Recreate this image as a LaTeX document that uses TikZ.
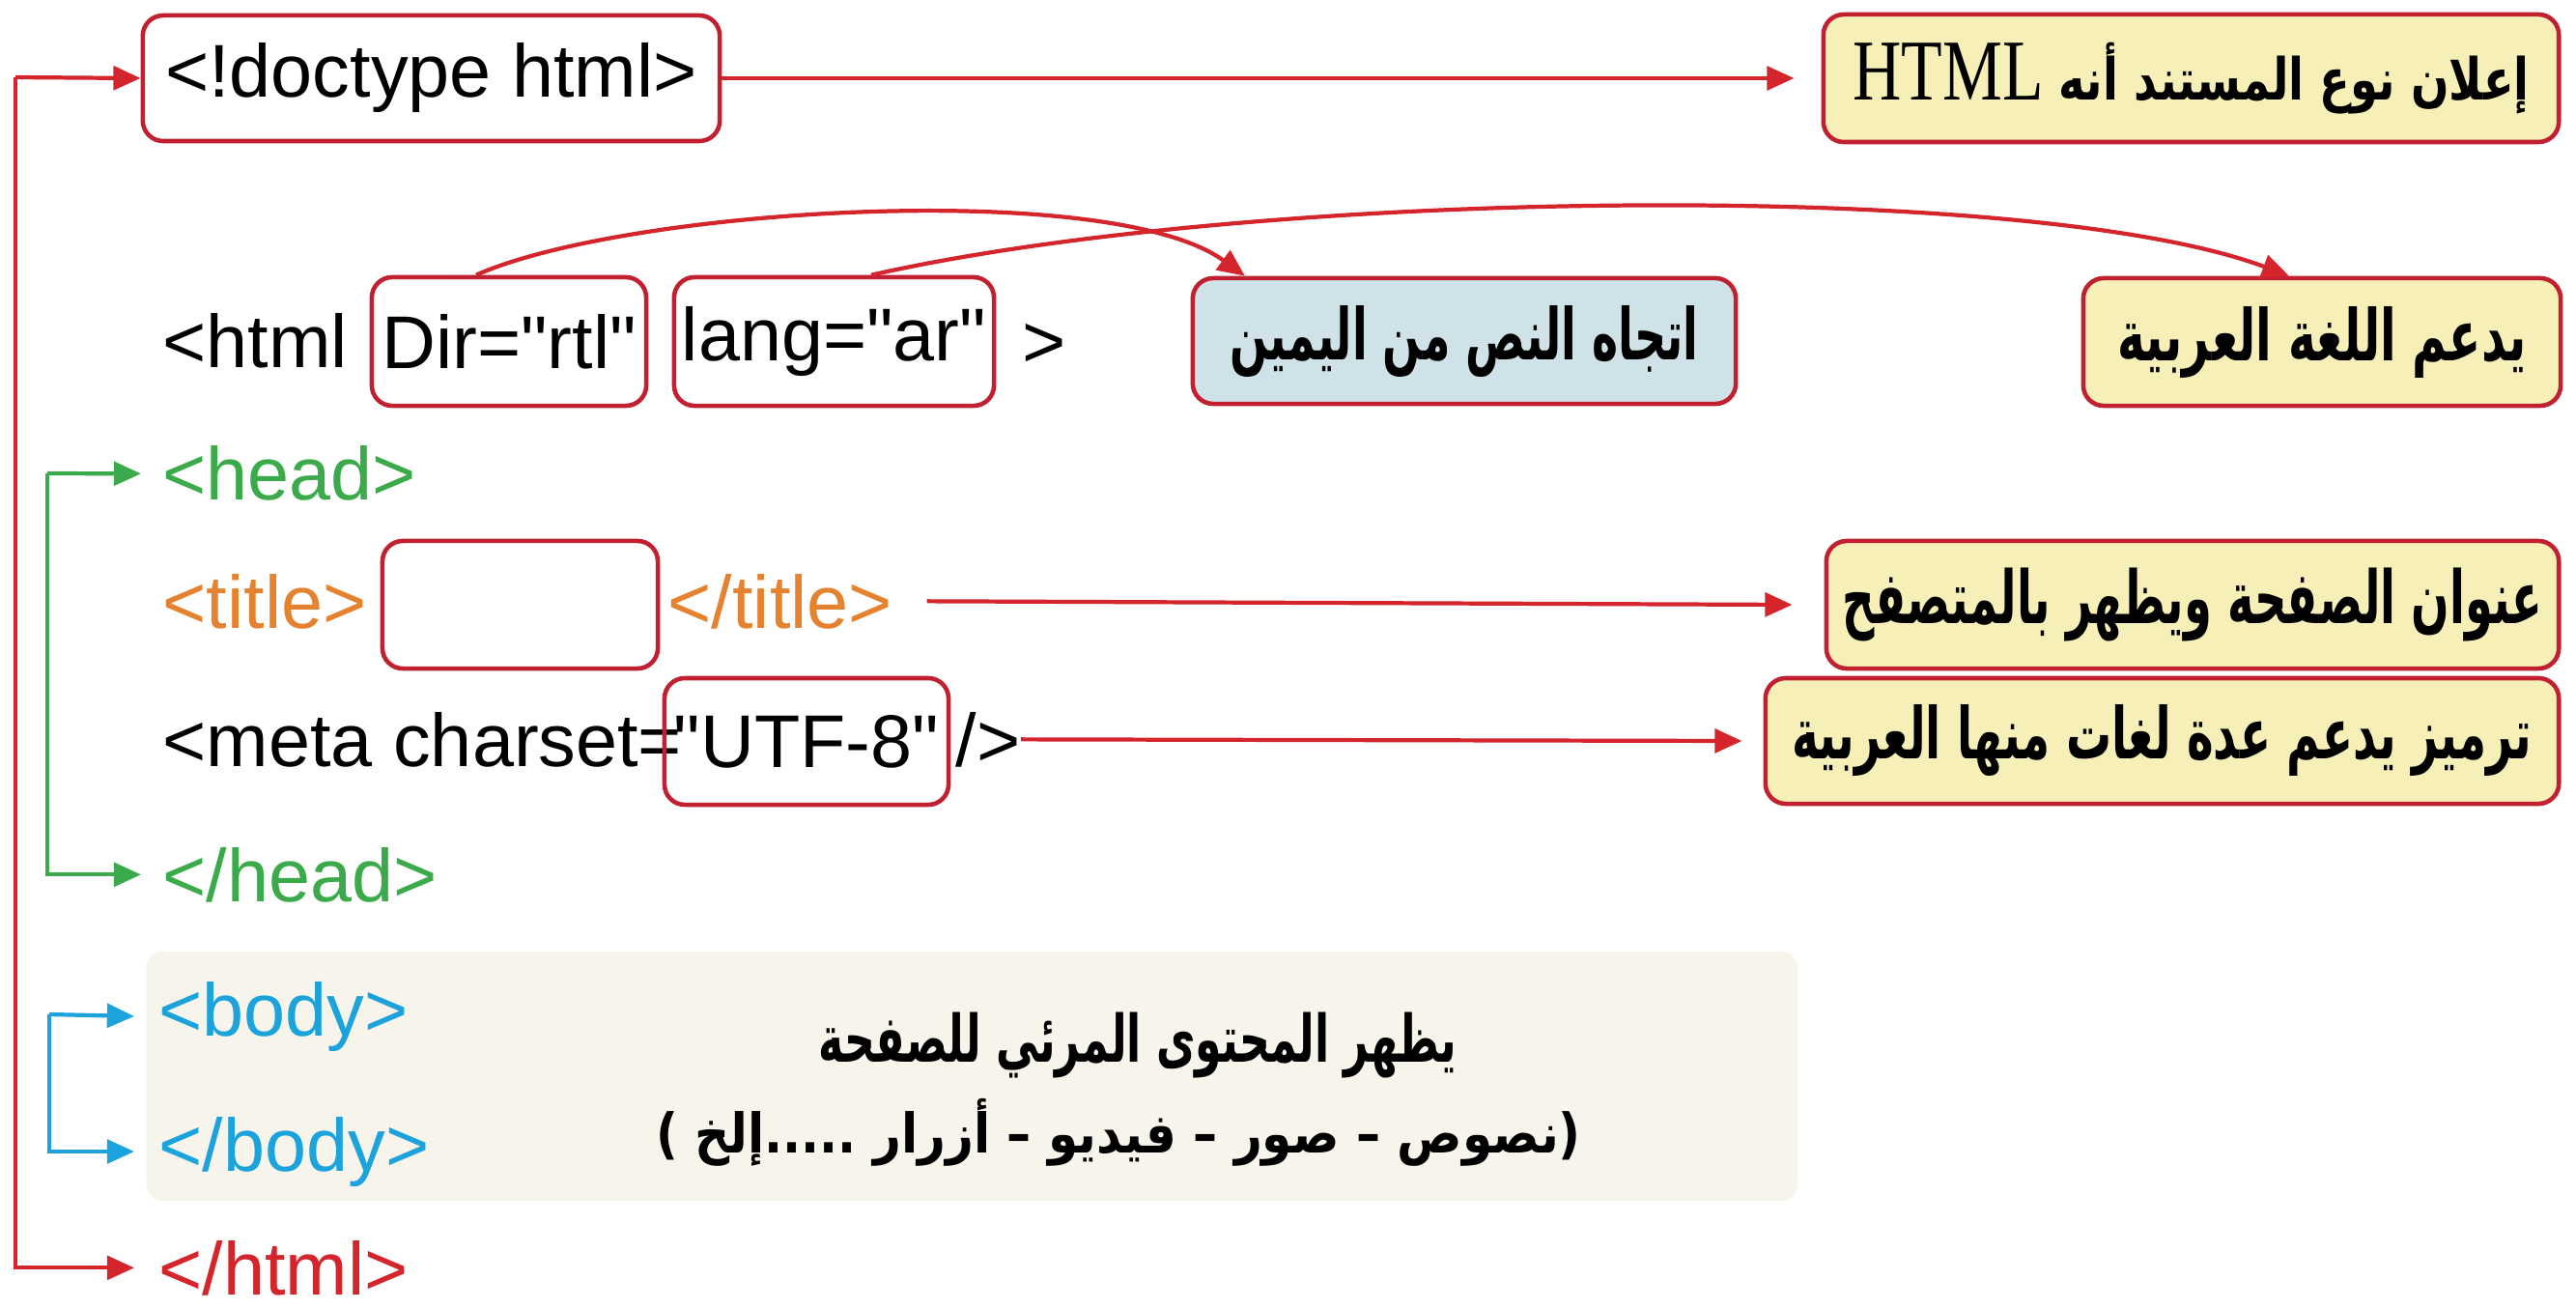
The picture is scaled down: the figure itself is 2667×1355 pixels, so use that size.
\documentclass[tikz,border=0pt]{standalone}
\usepackage{fontspec}
\setmainfont{Liberation Sans}
\newfontfamily\arabicfont[Script=Arabic]{DejaVu Sans}
\newfontfamily\htmlserif{Liberation Serif}
\usetikzlibrary{arrows.meta,calc}
\TeXXeTstate=1
\newcommand\dq{\XeTeXglyph\XeTeXcharglyph"22\relax}
\definecolor{cred}{RGB}{212,36,44}
\definecolor{bred}{RGB}{192,32,48}
\definecolor{cgreen}{RGB}{58,170,74}
\definecolor{cblue}{RGB}{28,163,219}
\definecolor{corange}{RGB}{228,130,47}
\definecolor{cyellow}{RGB}{246,240,184}
\definecolor{clblue}{RGB}{207,226,231}
\definecolor{cbeige}{RGB}{247,244,236}
\tikzset{
  codefont/.style={font=\fontsize{22}{26}\selectfont},
  code/.style={codefont, inner sep=0pt, anchor=base west, text=black},
  hbox/.style={draw=bred, line width=1.3pt, rounded corners=6pt, inner sep=0pt, fill=white},
  ybox/.style={hbox, fill=cyellow, font=\arabicfont\bfseries\fontsize{16}{20}\selectfont},
  bbox/.style={hbox, fill=clblue, font=\arabicfont\bfseries\fontsize{16}{20}\selectfont},
  artext/.style={inner sep=0pt, font=\arabicfont\bfseries\fontsize{16}{20}\selectfont},
  tip/.style={-{Triangle[length=8pt,width=7pt]}},
  rline/.style={draw=cred, line width=1.2pt},
}
\begin{document}
\begin{tikzpicture}[x=0.01cm,y=-0.01cm]
\useasboundingbox (0,0) rectangle (2667,1355);

% body background
\node[fill=cbeige, rounded corners=5pt, minimum width=17.09cm, minimum height=2.58cm, inner sep=0pt] (bodybg) at (1006.5,1114) {};

% doctype row
\node[hbox, minimum width=5.97cm, minimum height=1.30cm, codefont] (doctype) at (446.5,81) {<!doctype html>};
\node[ybox, minimum width=7.61cm, minimum height=1.32cm] (decl) at (2268.5,81)
  {\resizebox*{7.0cm}{0.74cm}{\beginR إعلان نوع المستند أنه \beginL{\htmlserif\mdseries\fontsize{24}{26}\selectfont HTML}\endL\endR}};

% html row
\node[code] (htmlo) at (168,380) {<html};
\node[hbox, minimum width=2.84cm, minimum height=1.33cm, codefont] (dir) at (527,353.5) {Dir=\dq rtl\dq};
\node[hbox, minimum width=3.31cm, minimum height=1.33cm, codefont] (lang) at (863.5,353.5) {lang=\dq ar\dq};
\node[code] (gt) at (1058,380) {>};
\node[bbox, minimum width=5.62cm, minimum height=1.30cm] (dirnote) at (1516,353)
  {\resizebox*{4.85cm}{0.74cm}{\beginR اتجاه النص من اليمين\endR}};
\node[ybox, minimum width=4.94cm, minimum height=1.32cm] (langnote) at (2404,354)
  {\resizebox*{4.23cm}{0.74cm}{\beginR يدعم اللغة العربية\endR}};

% head
\node[code, text=cgreen] (head) at (168,518) {<head>};
\node[code, text=corange] (titleo) at (168,650) {<title>};
\node[hbox, minimum width=2.85cm, minimum height=1.32cm] (titlebox) at (538.5,626) {};
\node[code, text=corange] (titlec) at (691,650) {</title>};
\node[ybox, minimum width=7.58cm, minimum height=1.32cm] (titlenote) at (2270,626)
  {\resizebox*{7.24cm}{0.76cm}{\beginR عنوان الصفحة ويظهر بالمتصفح\endR}};

\node[code] (meta) at (168,793) {<meta charset=};
\node[hbox, minimum width=2.94cm, minimum height=1.31cm, codefont, fill=none] (utf) at (835,767.5) {\dq UTF-8\dq};
\node[code] (metaend) at (989,793) {/>};
\node[ybox, minimum width=8.21cm, minimum height=1.30cm] (utfnote) at (2238.5,767)
  {\resizebox*{7.66cm}{0.74cm}{\beginR ترميز يدعم عدة لغات منها العربية\endR}};

\node[code, text=cgreen] (headc) at (168,933) {</head>};

% body
\node[code, text=cblue] (body) at (164,1072) {<body>};
\node[code, text=cblue] (bodyc) at (164,1212) {</body>};
\node[artext] (bodynote1) at (1178,1082)
  {\resizebox*{6.6cm}{0.68cm}{\beginR يظهر المحتوى المرئي للصفحة\endR}};
\node[artext] (bodynote2) at (1158,1172)
  {\resizebox*{9.57cm}{0.70cm}{\beginR (نصوص – صور – فيديو – أزرار .....إلخ )\endR}};

\node[code, text=cred] (htmlc) at (164,1340) {</html>};

% connectors
\coordinate (rl) at (16,80);
\draw[rline, tip] (rl) -- (doctype.west);
\draw[rline, tip] (rl) |- ([xshift=-0.25cm]htmlc.west);
\draw[rline, tip] (doctype.east) -- ([xshift=-0.28cm]decl.west);
\draw[rline, tip] ([xshift=0.35cm]titlec.east) -- ([xshift=-0.33cm]titlenote.west);
\draw[rline, tip] (metaend.east) -- ([xshift=-0.22cm]utfnote.west);

\coordinate (gl) at (49,490);
\draw[draw=cgreen, line width=1.2pt, tip] (gl) -- ([xshift=-0.22cm]head.west);
\draw[draw=cgreen, line width=1.2pt, tip] (gl) |- ([xshift=-0.22cm]headc.west);

\coordinate (bl) at (51,1050);
\draw[draw=cblue, line width=1.2pt, tip] (bl) -- ([xshift=-0.25cm]body.west);
\draw[draw=cblue, line width=1.2pt, tip] (bl) |- ([xshift=-0.25cm]bodyc.west);

% arcs
\draw[rline, tip] ([xshift=-0.34cm]dir.north) .. controls (650,215) and (1150,185) .. ([xshift=-2.27cm]dirnote.north);
\draw[rline, tip] ([xshift=0.385cm]lang.north) .. controls (1300,195) and (2100,185) .. ([xshift=-0.34cm]langnote.north);
\end{tikzpicture}
\end{document}
